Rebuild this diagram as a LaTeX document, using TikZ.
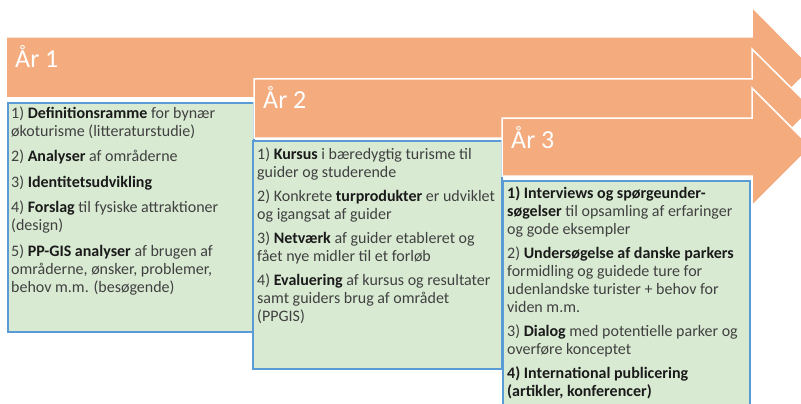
\documentclass[tikz,border=0pt]{standalone}
\usepackage{fontspec}
\setmainfont{Carlito}
\definecolor{arrowFill}{HTML}{F4AB7D}
\definecolor{boxFill}{HTML}{D9EAD3}
\definecolor{boxLine}{HTML}{5B9BD5}
\definecolor{textGray}{HTML}{404040}
\definecolor{textDark}{HTML}{1A1A1A}
\newcommand{\kw}[1]{\textbf{\color{textDark}#1}}
\newcommand{\topstrut}{\rule{0pt}{13pt}}
\tikzset{
  yeararrow/.style={fill=arrowFill,draw=white,line width=1.5pt,line join=miter},
  taskbox/.style={fill=boxFill,draw=boxLine,line width=1.5pt},
  yearlabel/.style={anchor=base west,inner sep=0pt,text=white,font=\fontsize{26}{30}\selectfont},
  tasktext/.style={anchor=north west,inner sep=0pt,align=left,text=textGray,font=\fontsize{16}{18}\selectfont}
}

\begin{document}
\begin{tikzpicture}[x=1pt,y=-1pt]
  \clip (0,0) rectangle (801,404);
  % year 1
  \draw [yeararrow] (6,37) -- (752,37) -- (752,7) -- (812,67.5) -- (752,128) -- (752,98) -- (6,98) -- cycle;
  \node [yearlabel] (aar1) at (15,67) {År 1};
  \draw [taskbox] (8,103) rectangle (254,332);
  \node [tasktext] (task1) at (11,105) {\topstrut1) \kw{Definitionsramme} for bynær\\
    økoturisme (litteraturstudie)\\[7.5pt]
    2) \kw{Analyser} af områderne\\[7.5pt]
    3) \kw{Identitetsudvikling}\\[7.5pt]
    4) \kw{Forslag} til fysiske attraktioner\\
    (design)\\[7.5pt]
    5) \kw{PP-GIS analyser} af brugen af\\
    områderne, ønsker, problemer,\\
    behov m.m. (besøgende)};
  % year 2
  \draw [yeararrow] (254,79) -- (752,79) -- (752,49) -- (812,108.5) -- (752,168) -- (752,138) -- (254,138) -- cycle;
  \node [yearlabel] (aar2) at (263,108) {År 2};
  \draw [taskbox] (253,141) rectangle (502,369);
  \node [tasktext] (task2) at (257,146) {\topstrut1) \kw{Kursus} i bæredygtig turisme til\\
    guider og studerende\\[6pt]
    2) Konkrete \kw{turprodukter} er udviklet\\
    og igangsat af guider\\[6pt]
    3) \kw{Netværk} af guider etableret og\\
    fået nye midler til et forløb\\[6pt]
    4) \kw{Evaluering} af kursus og resultater\\
    samt guiders brug af området\\
    (PPGIS)};
  % year 3
  \draw [yeararrow] (502,118) -- (752,118) -- (752,88) -- (811,147) -- (752,206) -- (752,176) -- (502,176) -- cycle;
  \node [yearlabel] (aar3) at (511,148) {År 3};
  \draw [taskbox] (503,181) rectangle (750,420);
  \node [tasktext] (task3) at (507,185) {\topstrut\kw{1) Interviews og spørgeunder-}\\
    \kw{søgelser} til opsamling af erfaringer\\
    og gode eksempler\\[6pt]
    2) \kw{Undersøgelse af danske parkers}\\
    formidling og guidede ture for\\
    udenlandske turister + behov for\\
    viden m.m.\\[6pt]
    3) \kw{Dialog} med potentielle parker og\\
    overføre konceptet\\[6pt]
    \kw{4) International publicering}\\
    \kw{(artikler, konferencer)}};
\end{tikzpicture}
\end{document}
